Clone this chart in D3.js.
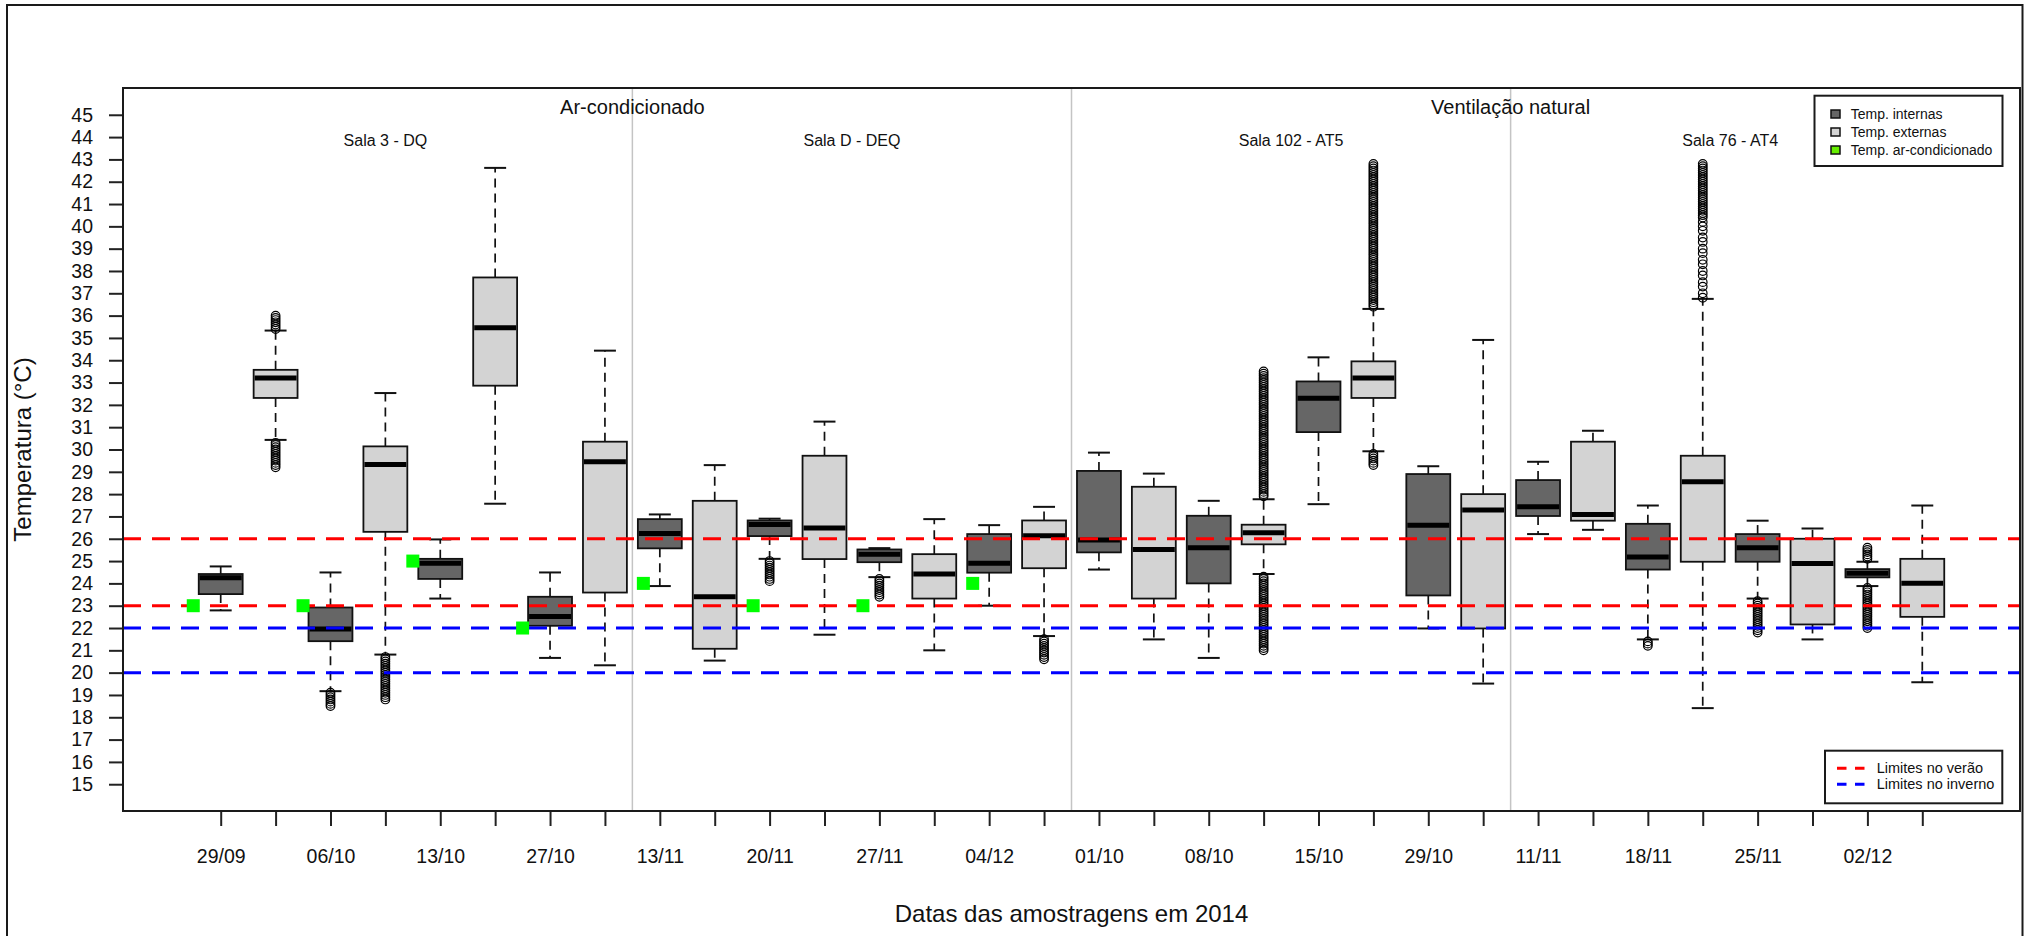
<!DOCTYPE html>
<html>
<head>
<meta charset="utf-8">
<script src="https://cdn.jsdelivr.net/npm/d3@7"></script>
<style>
  html, body { margin: 0; padding: 0; background: #fff; }
  svg text { font-family: "Liberation Sans", Arial, sans-serif; fill: #111; }
</style>
</head>
<body>
<svg id="chart" width="2030" height="936"></svg>
<script>
// Sampling dates, one label per pair of boxes (internal, external)
const dates = ["29/09","06/10","13/10","27/10","13/11","20/11","27/11","04/12",
               "01/10","08/10","15/10","29/10","11/11","18/11","25/11","02/12"];

// Box statistics for the 32 boxes, internal/external alternating
const whiskerLow  = [22.79, 30.43, 19.17, 20.81, 23.32, 27.57, 20.66, 20.33,
                     23.88, 20.54, 25.10, 21.70, 24.28, 21.00, 23.00, 21.64,
                     24.62, 21.49, 20.66, 24.42, 27.55, 29.92, 21.98, 19.51,
                     26.21, 26.40, 21.49, 18.41, 23.32, 21.49, 23.88, 19.57];
const q1          = [23.52, 32.31, 21.41, 26.31, 24.20, 32.86, 22.10, 23.59,
                     25.57, 21.07, 26.12, 25.09, 24.95, 23.32, 24.48, 24.68,
                     25.39, 23.32, 24.00, 25.75, 30.78, 32.31, 23.46, 21.98,
                     27.02, 26.81, 24.62, 24.97, 24.97, 22.16, 24.27, 22.50];
const median      = [24.25, 33.20, 21.96, 29.33, 24.90, 35.46, 22.52, 29.45,
                     26.24, 23.40, 26.64, 26.48, 25.31, 24.42, 24.90, 26.13,
                     25.94, 25.52, 25.60, 26.27, 32.30, 33.20, 26.61, 27.29,
                     27.43, 27.09, 25.18, 28.56, 25.60, 24.89, 24.45, 24.01];
const q3          = [24.42, 33.57, 22.92, 30.14, 25.10, 37.71, 23.40, 30.35,
                     26.88, 27.70, 26.82, 29.72, 25.52, 25.31, 26.21, 26.82,
                     29.04, 28.33, 27.03, 26.63, 33.05, 33.95, 28.90, 28.00,
                     28.63, 30.35, 26.67, 29.72, 26.21, 26.00, 24.64, 25.10];
const whiskerHigh = [24.76, 35.33, 24.49, 32.53, 25.97, 42.62, 24.49, 34.43,
                     27.09, 29.30, 26.90, 31.25, 25.58, 26.88, 26.61, 27.43,
                     29.86, 28.92, 27.70, 27.77, 34.13, 36.30, 29.25, 34.91,
                     29.45, 30.84, 27.49, 36.75, 26.81, 26.46, 24.97, 27.49];

// Outlying readings per box (empty where none)
const outliers = [
  [],
  [35.4,35.5,35.6,35.7,35.8,35.9,36.0,
   29.2,29.3,29.4,29.5,29.6,29.7,29.8,29.9,30.0,30.1,30.2,30.3],
  [18.5,18.6,18.7,18.8,18.9,19.0,19.1],
  [18.8,18.9,19.0,19.1,19.2,19.3,19.4,19.5,19.6,19.7,19.8,19.9,20.0,20.1,20.2,20.3,20.4,20.5,20.6,20.7],
  [], [], [], [],
  [], [],
  [24.1,24.2,24.3,24.4,24.5,24.6,24.7,24.8,24.9,25.0],
  [],
  [23.4,23.5,23.6,23.7,23.8,23.9,24.0,24.1,24.2],
  [], [],
  [20.6,20.7,20.8,20.9,21.0,21.1,21.2,21.3,21.4,21.5],
  [], [], [],
  [27.9,28.0,28.1,28.2,28.3,28.4,28.5,28.6,28.7,28.8,28.9,29.0,29.1,29.2,29.3,29.4,29.5,29.6,29.7,
   29.8,29.9,30.0,30.1,30.2,30.3,30.4,30.5,30.6,30.7,30.8,30.9,31.0,31.1,31.2,31.3,31.4,31.5,31.6,
   31.7,31.8,31.9,32.0,32.1,32.2,32.3,32.4,32.5,32.6,32.7,32.8,32.9,33.0,33.1,33.2,33.3,33.4,33.5,
   21.0,21.1,21.2,21.3,21.4,21.5,21.6,21.7,21.8,21.9,22.0,22.1,22.2,22.3,22.4,22.5,22.6,22.7,
   22.8,22.9,23.0,23.1,23.2,23.3,23.4,23.5,23.6,23.7,23.8,23.9,24.0,24.1,24.2,24.3],
  [],
  [36.4,36.5,36.6,36.7,36.8,36.9,37.0,37.1,37.2,37.3,37.4,37.5,37.6,37.7,37.8,37.9,38.0,38.1,38.2,
   38.3,38.4,38.5,38.6,38.7,38.8,38.9,39.0,39.1,39.2,39.3,39.4,39.5,39.6,39.7,39.8,39.9,40.0,40.1,
   40.2,40.3,40.4,40.5,40.6,40.7,40.8,40.9,41.0,41.1,41.2,41.3,41.4,41.5,41.6,41.7,41.8,41.9,42.0,
   42.1,42.2,42.3,42.4,42.5,42.6,42.7,42.8,
   29.3,29.4,29.5,29.6,29.7,29.8],
  [], [], [], [],
  [21.2,21.3,21.4],
  [36.8,37.0,37.3,37.5,37.8,38.0,38.3,38.5,38.8,39.0,39.3,39.5,39.8,40.0,40.2,40.4,
   40.5,40.6,40.7,40.8,40.9,41.0,41.1,41.2,41.3,41.4,41.5,41.6,41.7,41.8,41.9,42.0,
   42.1,42.2,42.3,42.4,42.5,42.6,42.7,42.8],
  [21.8,21.9,22.0,22.1,22.2,22.3,22.4,22.5,22.6,22.7,22.8,22.9,23.0,23.1,23.2],
  [],
  [25.1,25.2,25.3,25.4,25.5,25.6,
   22.0,22.1,22.2,22.3,22.4,22.5,22.6,22.7,22.8,22.9,23.0,23.1,23.2,23.3,23.4,23.5,23.6,23.7,23.8],
  []
];

// Air-conditioner set points, tied to the internal box of each sampling
const acBox   = [1, 3, 5, 7, 9, 11, 13, 15];
const acValue = [23, 23, 25, 22, 24, 23, 23, 24];

// Comfort limits
const summerLimits = [23, 26];
const winterLimits = [20, 22];

// Section titles
const sections = [{ label: "Ar-condicionado", at: 8.5 }, { label: "Ventilação natural", at: 24.5 }];
const rooms = [
  { label: "Sala 3 - DQ", at: 4 }, { label: "Sala D - DEQ", at: 12.5 },
  { label: "Sala 102 - AT5", at: 20.5 }, { label: "Sala 76 - AT4", at: 28.5 }
];
const dividers = [8.5, 16.5, 24.5];
const yTicks = d3.range(15, 46);

// ---- layout
const svg = d3.select("#chart");
const L = 123, R = 2020, T = 88, B = 811;
const x = d3.scaleLinear().domain([-0.78, 33.78]).range([L, R]);
const y = d3.scaleLinear().domain([13.8, 46.2]).range([B, T]);
const DARK = "#666666", LIGHT = "#d3d3d3", GREEN = "#00ff00";

svg.append("rect").attr("width", 2030).attr("height", 936).attr("fill", "#fff");
// outer figure frame
svg.append("rect").attr("x", 7).attr("y", 5).attr("width", 2015.5).attr("height", 960)
   .attr("fill", "none").attr("stroke", "#1a1a1a").attr("stroke-width", 2);

// section dividers
svg.selectAll("line.div").data(dividers).join("line")
   .attr("x1", d => x(d)).attr("x2", d => x(d)).attr("y1", T).attr("y2", B)
   .attr("stroke", "#c4c4c4").attr("stroke-width", 1.5);

// boxes
const n = median.length;
const boxes = d3.range(n).map(i => ({
  pos: i + 1, lo: whiskerLow[i], q1: q1[i], med: median[i], q3: q3[i], hi: whiskerHigh[i],
  out: outliers[i], fill: i % 2 === 0 ? DARK : LIGHT
}));
const bw = x(0.4) - x(0), cw = x(0.2) - x(0);
const g = svg.append("g");
const bg = g.selectAll("g.box").data(boxes).join("g");
bg.append("line").attr("x1", d => x(d.pos)).attr("x2", d => x(d.pos))
  .attr("y1", d => y(d.q3)).attr("y2", d => y(d.hi))
  .attr("stroke", "#111").attr("stroke-width", 1.7).attr("stroke-dasharray", "9,6");
bg.append("line").attr("x1", d => x(d.pos)).attr("x2", d => x(d.pos))
  .attr("y1", d => y(d.q1)).attr("y2", d => y(d.lo))
  .attr("stroke", "#111").attr("stroke-width", 1.7).attr("stroke-dasharray", "9,6");
bg.append("line").attr("x1", d => x(d.pos) - cw).attr("x2", d => x(d.pos) + cw)
  .attr("y1", d => y(d.hi)).attr("y2", d => y(d.hi)).attr("stroke", "#111").attr("stroke-width", 2);
bg.append("line").attr("x1", d => x(d.pos) - cw).attr("x2", d => x(d.pos) + cw)
  .attr("y1", d => y(d.lo)).attr("y2", d => y(d.lo)).attr("stroke", "#111").attr("stroke-width", 2);
bg.append("rect").attr("x", d => x(d.pos) - bw).attr("width", 2 * bw)
  .attr("y", d => y(d.q3)).attr("height", d => y(d.q1) - y(d.q3))
  .attr("fill", d => d.fill).attr("stroke", "#111").attr("stroke-width", 1.8);
bg.append("line").attr("x1", d => x(d.pos) - bw + 1).attr("x2", d => x(d.pos) + bw - 1)
  .attr("y1", d => y(d.med)).attr("y2", d => y(d.med)).attr("stroke", "#000").attr("stroke-width", 5);
bg.selectAll("circle").data(d => d.out.map(v => ({ pos: d.pos, v }))).join("circle")
  .attr("cx", d => x(d.pos)).attr("cy", d => y(d.v)).attr("r", 4.3)
  .attr("fill", "none").attr("stroke", "#000").attr("stroke-width", 1.2);

// comfort limit lines
const limits = summerLimits.map(v => ({ v, c: "#ff0000" })).concat(winterLimits.map(v => ({ v, c: "#0000ff" })));
svg.selectAll("line.lim").data(limits).join("line")
   .attr("x1", L).attr("x2", R).attr("y1", d => y(d.v)).attr("y2", d => y(d.v))
   .attr("stroke", d => d.c).attr("stroke-width", 3).attr("stroke-dasharray", "18,11");

// air-conditioner set points
svg.selectAll("rect.ac").data(acBox.map((b, i) => ({ b, v: acValue[i] }))).join("rect")
   .attr("x", d => x(d.b - (d.b <= 8 ? 0.5 : 0.3)) - 6.5).attr("y", d => y(d.v) - 6.5)
   .attr("width", 13).attr("height", 13).attr("fill", GREEN);

// axes
const yAxis = svg.append("g").attr("transform", `translate(${L},0)`)
  .call(d3.axisLeft(y).tickValues(yTicks).tickSize(14).tickPadding(16).tickFormat(d3.format("d")));
yAxis.select(".domain").remove();
yAxis.selectAll("line").attr("stroke", "#222").attr("stroke-width", 2);
yAxis.selectAll("text").attr("font-size", 19.5).attr("fill", "#111")
     .attr("font-family", "'Liberation Sans', Arial, sans-serif");

const xAxis = svg.append("g").attr("transform", `translate(0,${B})`)
  .call(d3.axisBottom(x).tickValues(d3.range(1, n + 1)).tickSize(15).tickPadding(23)
        .tickFormat(d => d % 2 === 1 ? dates[(d - 1) / 2] : ""));
xAxis.select(".domain").remove();
xAxis.selectAll("line").attr("stroke", "#222").attr("stroke-width", 2);
xAxis.selectAll("text").attr("font-size", 19.5).attr("fill", "#111")
     .attr("font-family", "'Liberation Sans', Arial, sans-serif");

// plot box
svg.append("rect").attr("x", L).attr("y", T).attr("width", R - L).attr("height", B - T)
   .attr("fill", "none").attr("stroke", "#1a1a1a").attr("stroke-width", 2);

// titles
svg.append("text").attr("transform", "translate(31,449.5) rotate(-90)")
   .attr("text-anchor", "middle").attr("font-size", 24).text("Temperatura (°C)");
svg.append("text").attr("x", (L + R) / 2).attr("y", 921.5)
   .attr("text-anchor", "middle").attr("font-size", 24).text("Datas das amostragens em 2014");
svg.selectAll("text.sec").data(sections).join("text")
   .attr("x", d => x(d.at)).attr("y", 114).attr("text-anchor", "middle")
   .attr("font-size", 20).text(d => d.label);
svg.selectAll("text.room").data(rooms).join("text")
   .attr("x", d => x(d.at)).attr("y", 145.5).attr("text-anchor", "middle")
   .attr("font-size", 16).text(d => d.label);

// legend: series
const leg1 = [
  { label: "Temp. internas", fill: DARK },
  { label: "Temp. externas", fill: LIGHT },
  { label: "Temp. ar-condicionado", fill: "#66ee00" }
];
svg.append("rect").attr("x", 1814.5).attr("y", 95.7).attr("width", 188).attr("height", 70.3)
   .attr("fill", "#fff").attr("stroke", "#1a1a1a").attr("stroke-width", 2);
const l1 = svg.selectAll("g.l1").data(leg1).join("g")
   .attr("transform", (d, i) => `translate(0,${114 + i * 18})`);
l1.append("rect").attr("x", 1831).attr("y", -4).attr("width", 9).attr("height", 8)
  .attr("fill", d => d.fill).attr("stroke", "#111").attr("stroke-width", 1.5);
l1.append("text").attr("x", 1850.7).attr("y", 5).attr("font-size", 14).text(d => d.label);

// legend: limits
const leg2 = [
  { label: "Limites no verão", c: "#ff0000" },
  { label: "Limites no inverno", c: "#0000ff" }
];
svg.append("rect").attr("x", 1825).attr("y", 750.7).attr("width", 177.3).attr("height", 52.6)
   .attr("fill", "#fff").attr("stroke", "#1a1a1a").attr("stroke-width", 2);
const l2 = svg.selectAll("g.l2").data(leg2).join("g")
   .attr("transform", (d, i) => `translate(0,${768.3 + i * 16})`);
l2.append("line").attr("x1", 1837).attr("x2", 1867).attr("y1", 0).attr("y2", 0)
  .attr("stroke", d => d.c).attr("stroke-width", 3).attr("stroke-dasharray", "9.5,8.5");
l2.append("text").attr("x", 1876.7).attr("y", 5).attr("font-size", 14.5).text(d => d.label);
</script>
</body>
</html>
